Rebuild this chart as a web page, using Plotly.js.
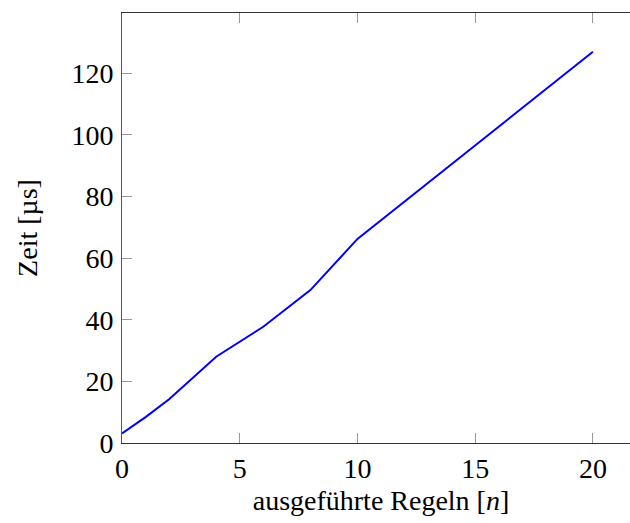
<!DOCTYPE html>
<html>
<head>
<meta charset="utf-8">
<script src="https://cdn.plot.ly/plotly-3.0.1.min.js"></script>
<style>
html, body { margin: 0; padding: 0; overflow: hidden; background: #fff; width: 630px; height: 523px; }
#chart { width: 645px; height: 523px; }
</style>
</head>
<body>
<div id="chart"></div>
<script>
// Data
const rules = [0, 1, 2, 4, 6, 8, 10, 20];          // ausgeführte Regeln [n]
const timeMicros = [3.1, 8.4, 14.2, 28.0, 37.7, 49.6, 66.2, 126.9]; // Zeit [µs]
const xTickVals = [0, 5, 10, 15, 20];
const yTickVals = [0, 20, 40, 60, 80, 100, 120];

const serif = '"Liberation Serif", "DejaVu Serif", serif';

const trace = {
  x: rules,
  y: timeMicros,
  type: 'scatter',
  mode: 'lines',
  line: { color: '#0000ff', width: 2 },
  hoverinfo: 'skip'
};

const layout = {
  width: 645,
  height: 523,
  margin: { l: 122, r: 5, t: 13, b: 80 },
  paper_bgcolor: '#ffffff',
  plot_bgcolor: '#ffffff',
  showlegend: false,
  font: { family: serif, color: '#000', size: 28 },
  xaxis: {
    range: [0, 22],
    tickvals: xTickVals,
    ticks: 'inside',
    ticklen: 10,
    tickwidth: 1,
    tickcolor: '#999',
    showline: true,
    linecolor: '#333',
    linewidth: 1,
    mirror: 'allticks',
    showgrid: false,
    zeroline: false,
    tickfont: { family: serif, size: 28, color: '#000' },
    ticklabelstandoff: 0,
    title: { text: 'ausgeführte Regeln [<i>n</i>]', font: { family: serif, size: 28, color: '#000' }, standoff: 7 }
  },
  yaxis: {
    range: [0, 139.5],
    tickvals: yTickVals,
    ticks: 'inside',
    ticklen: 10,
    tickwidth: 1,
    tickcolor: '#999',
    showline: true,
    linecolor: '#555',
    linewidth: 1,
    mirror: 'allticks',
    showgrid: false,
    zeroline: false,
    tickfont: { family: serif, size: 28, color: '#000' },
    ticklabelstandoff: 2,
    title: { text: 'Zeit [µs]', font: { family: serif, size: 28, color: '#000' }, standoff: 25 }
  }
};

Plotly.newPlot('chart', [trace], layout, { displayModeBar: false, staticPlot: true });
</script>
</body>
</html>
